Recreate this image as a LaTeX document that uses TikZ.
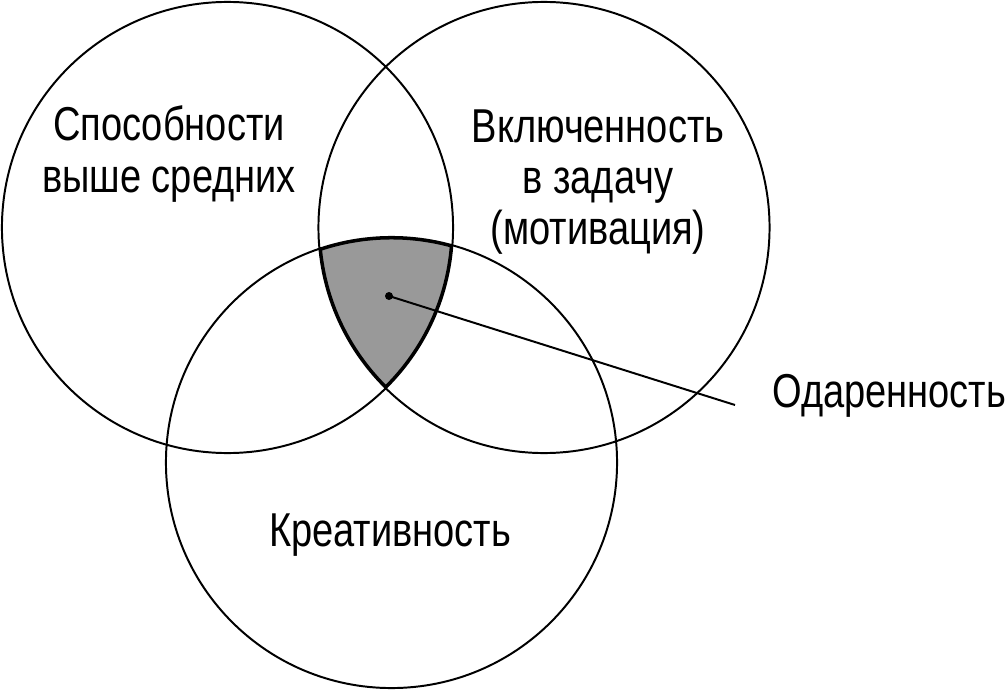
\documentclass[tikz,border=0pt]{standalone}
\usepackage{fontspec}
\setmainfont{Liberation Sans}[FakeStretch=0.8]

\begin{document}
\begin{tikzpicture}[x=0.025cm,y=-0.025cm,
		ring/.style={line width=1.4pt},
		lbl/.style={font=\fontsize{33.8}{36.3}\selectfont, align=center, inner sep=0pt}]
		\useasboundingbox (0,0) rectangle (1008,690);
		\def\rad{5.6375cm}
		\coordinate (abil) at (227.5,227.5);
		\coordinate (task) at (544,227.5);
		\coordinate (crea) at (391.5,462.5);
		\begin{scope}
			\clip (abil) circle (\rad);
			\clip (task) circle (\rad);
			\clip (crea) circle (\rad);
			\fill[black!40] (crea) circle (\rad);
			\draw[line width=3.6pt] (abil) circle (\rad) (task) circle (\rad) (crea) circle (\rad);
		\end{scope}
		\draw[ring] (abil) circle (\rad) (task) circle (\rad) (crea) circle (\rad);
		\node[lbl] (abiltext) at (169,154) {Способности\\выше средних};
		\node[lbl] (tasktext) at (598,182) {Включенность\\в задачу\\(мотивация)};
		\node[lbl] (creatext) at (390,535) {Креативность};
		\node[lbl, anchor=west] (gift) at (772,396) {Одаренность};
		\node[circle, fill, inner sep=0pt, minimum size=0.2cm] (dot) at (389,296) {};
		\coordinate (tip) at (735,405);
		\draw[ring] (dot.center) -- (tip);
	\end{tikzpicture}
\end{document}
